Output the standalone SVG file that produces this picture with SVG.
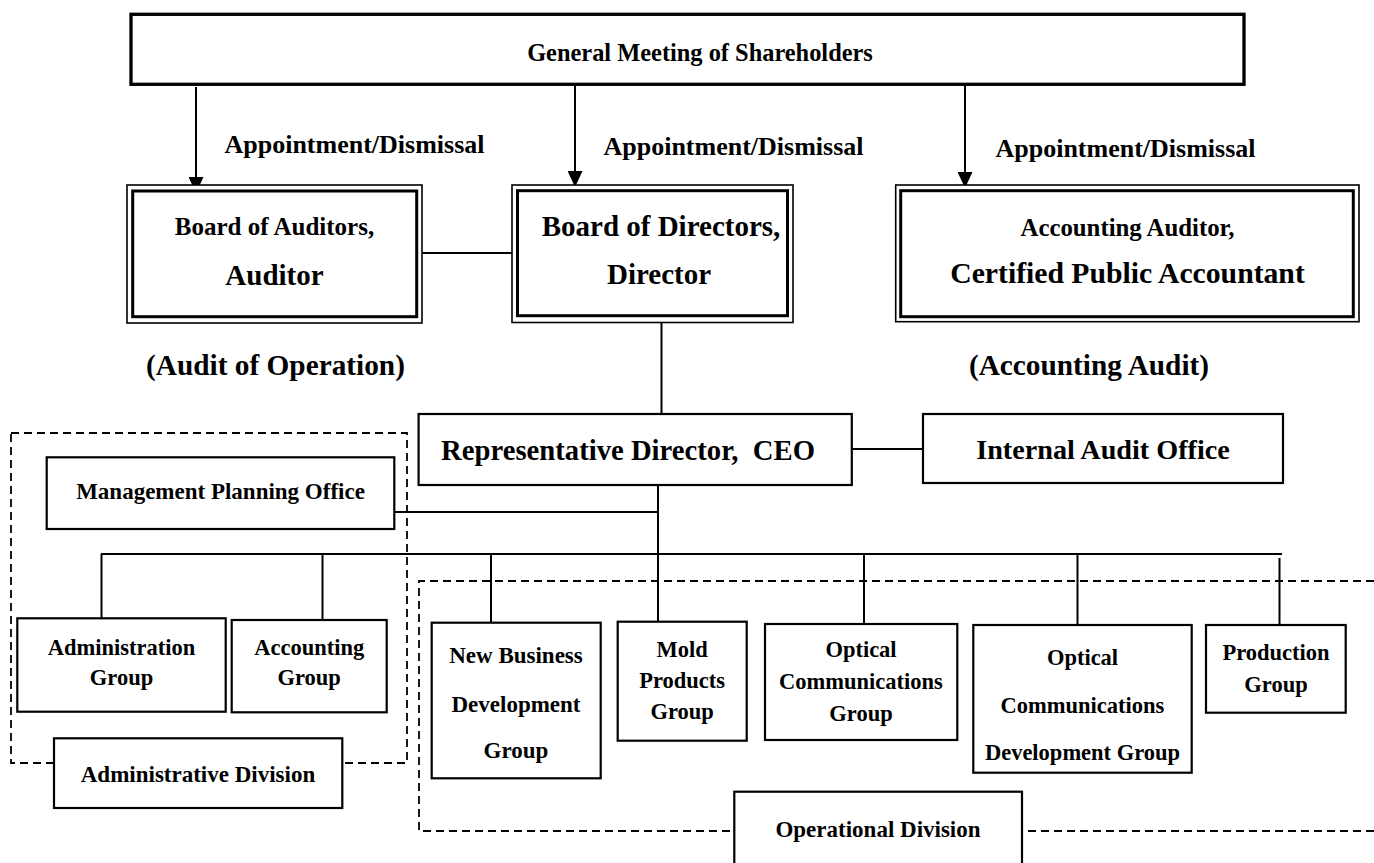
<svg xmlns="http://www.w3.org/2000/svg" width="1374" height="863" viewBox="0 0 1374 863">
  <defs>
    <marker id="arrowhead" markerUnits="userSpaceOnUse" markerWidth="16" markerHeight="15" refX="16" refY="7.5" orient="auto">
      <path d="M0,0 L16,7.5 L0,15 Z" fill="#000"/>
    </marker>
    <style>
      text { font-family: "Liberation Serif", "Times New Roman", serif; font-weight: bold; fill: #000; text-anchor: middle; }
      .box { fill: #fff; stroke: #000; stroke-width: 2.2; }
      .top { fill: #fff; stroke: #000; stroke-width: 3.3; }
      .outer { fill: #fff; stroke: #000; stroke-width: 1.6; }
      .inner { fill: none; stroke: #000; stroke-width: 3; }
      .line { fill: none; stroke: #000; stroke-width: 2; }
      .arrow { fill: none; stroke: #000; stroke-width: 2; marker-end: url(#arrowhead); }
      .dash { fill: none; stroke: #000; stroke-width: 1.8; stroke-dasharray: 8 5; }
      .s22 { font-size: 22.5px; }
      .s23 { font-size: 23px; }
    </style>
  </defs>
  <rect width="1374" height="863" fill="#fff"/>

  <!-- division boundaries -->
  <g id="division-frames">
    <rect class="dash" x="11" y="433" width="396" height="330"/>
    <path class="dash" d="M1374,581 H419 V831 H734"/>
    <path class="dash" d="M1028,831 H1374"/>
  </g>

  <!-- connectors -->
  <g id="connectors">
    <path class="arrow" d="M196,87 V193"/>
    <path class="arrow" d="M575,86 V187"/>
    <path class="arrow" d="M965,86 V188"/>
    <path class="line" d="M422,253 H512"/>
    <path class="line" d="M661.5,323 V414"/>
    <path class="line" d="M852,449 H923"/>
    <path class="line" d="M394,512 H658"/>
    <path class="line" d="M658,485 V621"/>
    <path class="line" d="M101,554 H1282"/>
    <path class="line" d="M101.5,554 V618"/>
    <path class="line" d="M322.5,554 V620"/>
    <path class="line" d="M491,554 V622"/>
    <path class="line" d="M864,554 V624"/>
    <path class="line" d="M1077.5,554 V625"/>
    <path class="line" d="M1279.5,558 V625"/>
  </g>

  <g id="labels">
    <text x="354.5" y="153" style="font-size:26px">Appointment/Dismissal</text>
    <text x="733.5" y="155" style="font-size:26px">Appointment/Dismissal</text>
    <text x="1125.5" y="157" style="font-size:26px">Appointment/Dismissal</text>
    <text x="275.5" y="375" style="font-size:29.3px">(Audit of Operation)</text>
    <text x="1089" y="375" style="font-size:29.3px">(Accounting Audit)</text>
  </g>

  <g id="general-meeting">
    <rect class="top" x="131" y="14.3" width="1113" height="70"/>
    <text x="700" y="61" style="font-size:24.4px">General Meeting of Shareholders</text>
  </g>

  <g id="board-of-auditors">
    <rect class="outer" x="127" y="185" width="295" height="138"/>
    <rect class="inner" x="132.7" y="191" width="284" height="125.7"/>
    <text x="274.5" y="235" style="font-size:25px">Board of Auditors,</text>
    <text x="274.5" y="285" style="font-size:29px">Auditor</text>
  </g>

  <g id="board-of-directors">
    <rect class="outer" x="512" y="185" width="281" height="137.5"/>
    <rect class="inner" x="517.5" y="190.7" width="270" height="125"/>
    <text x="661" y="236" style="font-size:29px">Board of Directors,</text>
    <text x="659" y="284" style="font-size:29px">Director</text>
  </g>

  <g id="accounting-auditor">
    <rect class="outer" x="895.7" y="185" width="463.3" height="136.7"/>
    <rect class="inner" x="900.7" y="190.7" width="452.6" height="126"/>
    <text x="1127.5" y="236" style="font-size:24.8px">Accounting Auditor,</text>
    <text x="1127.5" y="283" style="font-size:29.7px">Certified Public Accountant</text>
  </g>

  <g id="ceo">
    <rect class="box" x="418.6" y="414" width="433.2" height="71"/>
    <text x="628" y="460" style="font-size:28.7px" xml:space="preserve">Representative Director,  CEO</text>
  </g>

  <g id="internal-audit-office">
    <rect class="box" x="923" y="414" width="360" height="69"/>
    <text x="1103" y="459" style="font-size:28.2px">Internal Audit Office</text>
  </g>

  <g id="management-planning-office">
    <rect class="box" x="46.7" y="457.3" width="347.6" height="71.7"/>
    <text class="s23" x="220.5" y="499">Management Planning Office</text>
  </g>

  <g id="administration-group">
    <rect class="box" x="17.3" y="618.3" width="208.4" height="93.4"/>
    <text class="s22" x="121.5" y="655">Administration</text>
    <text class="s22" x="121.5" y="685">Group</text>
  </g>

  <g id="accounting-group">
    <rect class="box" x="231.7" y="620" width="155" height="92.3"/>
    <text class="s22" x="309.2" y="655">Accounting</text>
    <text class="s22" x="309.2" y="685">Group</text>
  </g>

  <g id="administrative-division">
    <rect class="box" x="54" y="738.3" width="288.3" height="69.7"/>
    <text class="s23" x="198" y="782">Administrative Division</text>
  </g>

  <g id="new-business-development-group">
    <rect class="box" x="431.7" y="622.7" width="169" height="155.6"/>
    <text class="s23" x="516" y="663.3">New Business</text>
    <text class="s23" x="516" y="711.7">Development</text>
    <text class="s23" x="516" y="758.3">Group</text>
  </g>

  <g id="mold-products-group">
    <rect class="box" x="617.7" y="621.7" width="129" height="119"/>
    <text class="s22" x="682.2" y="656.7">Mold</text>
    <text class="s22" x="682.2" y="688.3">Products</text>
    <text class="s22" x="682.2" y="719.3">Group</text>
  </g>

  <g id="optical-communications-group">
    <rect class="box" x="765" y="624" width="192.3" height="116"/>
    <text class="s22" x="861" y="657">Optical</text>
    <text class="s22" x="861" y="689">Communications</text>
    <text class="s22" x="861" y="721">Group</text>
  </g>

  <g id="optical-communications-development-group">
    <rect class="box" x="973.3" y="625" width="218.4" height="147.7"/>
    <text class="s22" x="1082.5" y="665">Optical</text>
    <text class="s22" x="1082.5" y="712.7">Communications</text>
    <text class="s22" x="1082.5" y="760">Development Group</text>
  </g>

  <g id="production-group">
    <rect class="box" x="1206" y="625" width="139.7" height="87.7"/>
    <text class="s22" x="1276" y="660">Production</text>
    <text class="s22" x="1276" y="691.7">Group</text>
  </g>

  <g id="operational-division">
    <rect class="box" x="734.3" y="791.7" width="287.7" height="80"/>
    <text class="s23" x="878" y="837">Operational Division</text>
  </g>
</svg>
